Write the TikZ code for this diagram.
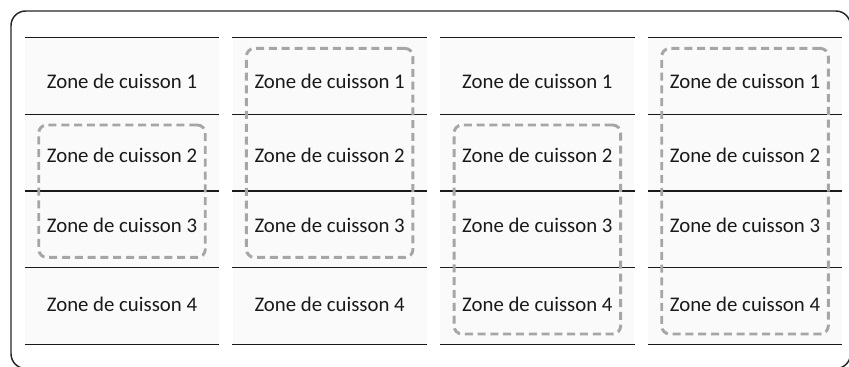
\documentclass[tikz,border=0pt]{standalone}
\usepackage{fontspec}
\setmainfont{Carlito}
\usetikzlibrary{fit}

\begin{document}
\begin{tikzpicture}[
  x=0.75pt, y=-0.75pt,
  font=\fontsize{15.6}{18}\selectfont,
  cell/.style={fill=black!2, draw=none, inner sep=0pt, minimum width=145.5pt, minimum height=57.45pt},
  zone/.style={inner sep=0pt, text=black!90},
  rule/.style={draw=black!90, line width=0.95pt},
  frame/.style={draw=black!85, line width=1.1pt, rounded corners=11pt},
  group/.style={draw=black!35, line width=2.2pt, dash pattern=on 6pt off 3.6pt, rounded corners=6pt, inner xsep=-10.5pt, inner ysep=-8pt},
]
\useasboundingbox (0,0) rectangle (849,367);
\draw[frame] (11,11) rectangle (850.5,368.5);
% cooking zones, one column per configuration
\foreach \c in {1,...,4}{
  \foreach \r/\dy in {1/5.5,2/2,3/-4,4/-2}{
    \node[cell] (c\c r\r) at ({122+(\c-1)*207.67},{38+76.6*(\r-0.5)}) {};
    \node[zone] (t\c r\r) at ([yshift=-\dy*0.75pt]c\c r\r.center) {Zone de cuisson \r};
    \draw[rule] (c\c r\r.north west) -- (c\c r\r.north east);
  }
  \draw[rule] (c\c r4.south west) -- (c\c r4.south east);
}
% linked zones
\node[group, fit=(c1r2)(c1r3)] (g1) {};
\node[group, fit=(c2r1)(c2r3)] (g2) {};
\node[group, fit=(c3r2)(c3r4)] (g3) {};
\node[group, fit=(c4r1)(c4r4)] (g4) {};
\end{tikzpicture}
\end{document}
